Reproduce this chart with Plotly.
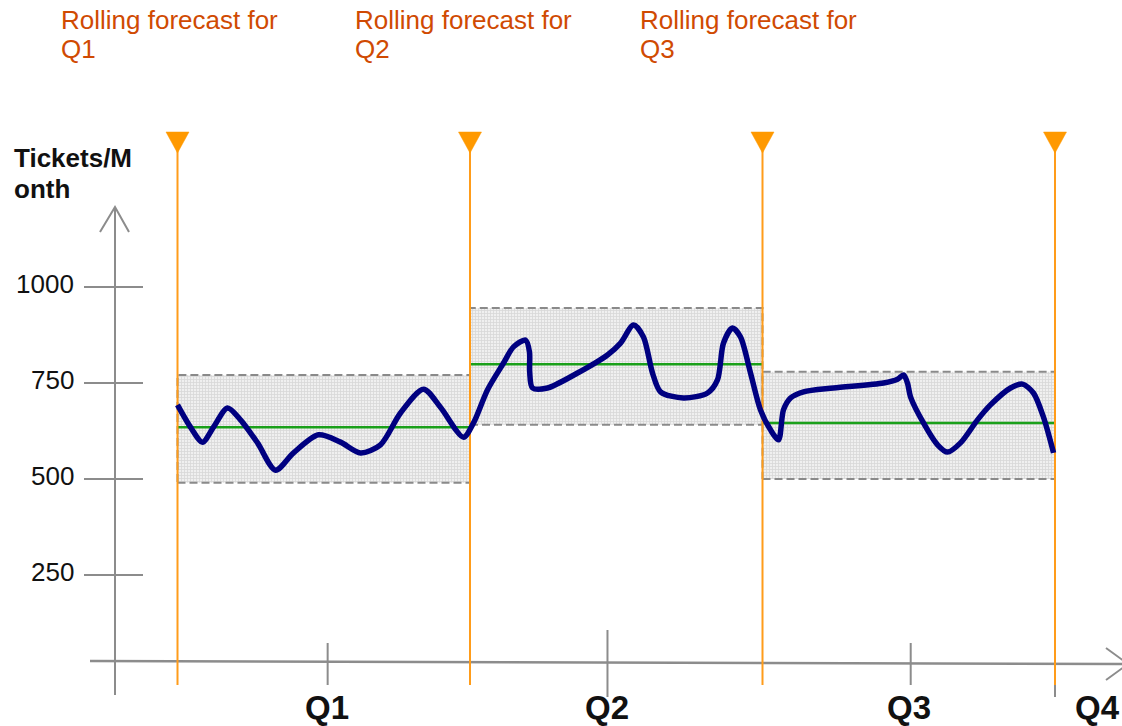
import plotly.graph_objects as go

# ---------------- data ----------------
# time axis in months (0 = start of Q1 rolling forecast)
forecast_months = [0, 3, 6, 9]                 # rolling forecast points (orange markers)
band_start = [0, 3, 6]
band_end = [3, 6, 9]
band_mid = [635, 799, 646]                     # green forecast line
band_low = [490, 641, 500]
band_high = [771, 945, 779]

actual_month = [0.00, 0.133, 0.256, 0.369, 0.513, 0.646, 0.821, 1.005, 1.190, 1.446,
                1.672, 1.877, 2.082, 2.287, 2.523, 2.697, 2.933, 3.036, 3.179, 3.344,
                3.446, 3.569, 3.610, 3.612, 3.641, 3.795, 4.103, 4.410, 4.544, 4.677,
                4.779, 4.872, 4.954, 5.190, 5.436, 5.538, 5.600, 5.692, 5.774, 5.877,
                5.979, 6.082, 6.164, 6.215, 6.287, 6.421, 6.728, 7.241, 7.385, 7.446,
                7.487, 7.518, 7.651, 7.795, 7.897, 8.031, 8.205, 8.338, 8.544, 8.667,
                8.779, 8.882, 8.985]
actual_tickets = [693, 635, 596, 635, 685, 654, 594, 523, 568, 615,
                  596, 568, 589, 672, 734, 687, 609, 646, 732, 802,
                  844, 862, 831, 779, 737, 737, 776, 823, 854, 901,
                  870, 776, 727, 711, 724, 758, 854, 893, 870, 776,
                  680, 628, 602, 680, 711, 727, 737, 750, 760, 771,
                  750, 714, 646, 589, 570, 594, 654, 693, 737, 747,
                  724, 661, 568]

y_tick_values = [250, 500, 750, 1000]
y_tick_labels = ["250", "500", "750", "1000"]
quarter_labels = ["Q1", "Q2", "Q3", "Q4"]
quarter_label_months = [1.53, 4.41, 7.50, 9.44]
quarter_tick_months = [1.54, 4.41, 7.52, 9.0]
y_title = ["Tickets/M", "onth"]
forecast_titles = ["Rolling forecast for", "Rolling forecast for", "Rolling forecast for"]
forecast_quarters = ["Q1", "Q2", "Q3"]

# ---------------- layout helpers (pixel geometry of the canvas) ----------------
W, H = 1122, 726
PX_PER_MONTH = 97.5
X0_PX = 177.5           # pixel of month 0
Y0_PX = 671.0           # pixel of 0 tickets
PX_PER_TICKET = 0.384

def mx(px):  # pixel x -> months
    return (px - X0_PX) / PX_PER_MONTH

def ty(py):  # pixel y -> tickets
    return (Y0_PX - py) / PX_PER_TICKET

FONT = "Liberation Sans, Arial, sans-serif"
ORANGE = "#ff9c1a"
GRAY = "#8c8c8c"

fig = go.Figure()

# forecast bands (grey dotted boxes with dashed borders)
for s, e, lo, hi in zip(band_start, band_end, band_low, band_high):
    fig.add_trace(go.Scatter(
        x=[s, e, e, s, s], y=[lo, lo, hi, hi, lo], mode="lines",
        fill="toself", fillcolor="#efefef",
        fillpattern=dict(shape="+", size=3, solidity=0.5, fgcolor="#c4c4c4", bgcolor="#f0f0f0"),
        line=dict(color="#8a8a8a", width=2, dash="8px,4px"),
        hoverinfo="skip", showlegend=False))

# green forecast lines
for s, e, m in zip(band_start, band_end, band_mid):
    fig.add_trace(go.Scatter(x=[s, e], y=[m, m], mode="lines",
                             line=dict(color="#1aa01a", width=2.5),
                             hoverinfo="skip", showlegend=False))

# orange forecast verticals
vx, vy = [], []
for m in forecast_months:
    vx += [m, m, None]
    vy += [ty(140), ty(685), None]
fig.add_trace(go.Scatter(x=vx, y=vy, mode="lines", line=dict(color=ORANGE, width=2),
                         hoverinfo="skip", showlegend=False))

# orange triangles on top of the verticals
half = 11.5 / PX_PER_MONTH
tx, tyy = [], []
for m in forecast_months:
    tx += [m - half, m + half, m, m - half, None]
    tyy += [ty(132), ty(132), ty(153), ty(132), None]
fig.add_trace(go.Scatter(x=tx, y=tyy, mode="lines", fill="toself", fillcolor="#ff9900",
                         line=dict(color="#ff9900", width=0.5),
                         hoverinfo="skip", showlegend=False))

# actual tickets curve
fig.add_trace(go.Scatter(x=actual_month, y=actual_tickets, mode="lines",
                         line=dict(color="#000080", width=5.5, shape="spline", smoothing=0.8),
                         hoverinfo="skip", showlegend=False))

shapes = []
# y axis with arrow
shapes.append(dict(type="line", x0=mx(115), x1=mx(115), y0=ty(695), y1=ty(207),
                   line=dict(color=GRAY, width=2), layer="below"))
shapes.append(dict(type="path",
                   path=f"M {mx(100)} {ty(232)} L {mx(115)} {ty(207)} L {mx(129)} {ty(232)}",
                   line=dict(color=GRAY, width=2), layer="below"))
# y ticks
for v in y_tick_values:
    shapes.append(dict(type="line", x0=mx(84), x1=mx(143), y0=v, y1=v,
                       line=dict(color=GRAY, width=2), layer="below"))
# x axis with arrow
shapes.append(dict(type="line", x0=mx(90), x1=mx(1130), y0=ty(661), y1=ty(664),
                   line=dict(color=GRAY, width=2.5), layer="below"))
shapes.append(dict(type="path",
                   path=f"M {mx(1106)} {ty(648)} L {mx(1128)} {ty(664)} L {mx(1106)} {ty(680)}",
                   line=dict(color=GRAY, width=2), layer="below"))
# quarter ticks
tick_ext = [(643, 685), (630, 697), (643, 685), (662, 697)]
for m, (a, b) in zip(quarter_tick_months, tick_ext):
    shapes.append(dict(type="line", x0=m, x1=m, y0=ty(a), y1=ty(b),
                       line=dict(color=GRAY, width=2), layer="below"))

annotations = []
for v, lab in zip(y_tick_values, y_tick_labels):
    annotations.append(dict(x=mx(76), y=v, xref="x", yref="y", text=lab, showarrow=False,
                            xanchor="right", yanchor="middle", yshift=3,
                            font=dict(family=FONT, size=26, color="#111111")))
for m, lab in zip(quarter_label_months, quarter_labels):
    annotations.append(dict(x=m, y=1 - 707 / H, xref="x", yref="paper", text=f"<b>{lab}</b>",
                            showarrow=False, xanchor="center", yanchor="middle",
                            font=dict(family=FONT, size=33, color="#111111")))
for i, line in enumerate(y_title):
    annotations.append(dict(x=12 / W, y=1 - (158 + 31 * i) / H, xref="paper", yref="paper",
                            text=f"<b>{line}</b>", showarrow=False, xanchor="left",
                            yanchor="middle", font=dict(family=FONT, size=26, color="#111111")))
title_left_px = [59, 353, 638]
for lx, t1, t2 in zip(title_left_px, forecast_titles, forecast_quarters):
    for j, txt in enumerate([t1, t2]):
        annotations.append(dict(x=lx / W, y=1 - (20 + 29 * j) / H, xref="paper", yref="paper",
                                text=txt, showarrow=False, xanchor="left", yanchor="middle",
                                font=dict(family=FONT, size=26, color="#d04a02")))

fig.update_layout(
    width=W, height=H, autosize=False,
    margin=dict(l=0, r=0, t=0, b=0, pad=0),
    paper_bgcolor="white", plot_bgcolor="white",
    xaxis=dict(range=[mx(0), mx(W)], visible=False, fixedrange=True),
    yaxis=dict(range=[ty(H), ty(0)], visible=False, fixedrange=True),
    shapes=shapes, annotations=annotations, showlegend=False,
)

fig.write_html("out.html")
